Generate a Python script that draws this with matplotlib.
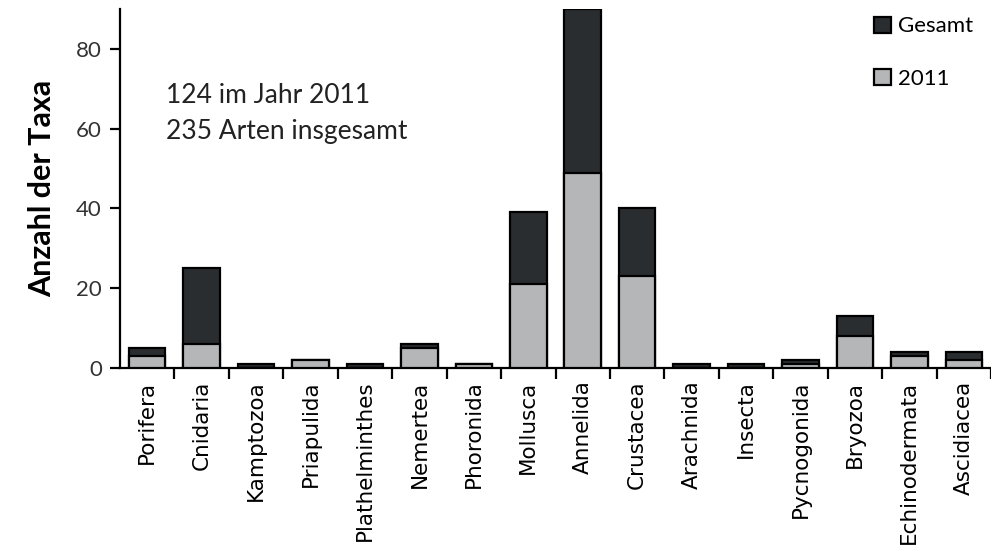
import matplotlib
matplotlib.use("Agg")
import matplotlib.pyplot as plt
import numpy as np

# data
taxa = ["Porifera", "Cnidaria", "Kamptozoa", "Priapulida", "Plathelminthes",
        "Nemertea", "Phoronida", "Mollusca", "Annelida", "Crustacea",
        "Arachnida", "Insecta", "Pycnogonida", "Bryozoa", "Echinodermata",
        "Ascidiacea"]
gesamt = [5, 25, 1, 2, 1, 6, 1, 39, 90, 40, 1, 1, 2, 13, 4, 4]
jahr2011 = [3, 6, 0, 2, 0, 5, 1, 21, 49, 23, 0, 0, 1, 8, 3, 2]

# plot parameters
figDim = (9.91, 5.45)
figDPI = 100
darkColor = "#2a2d30"
greyColor = "#b5b6b8"
barWidth = 0.67
mainFont = "Lato"

fig = plt.figure(figsize=figDim, dpi=figDPI)
ax = fig.add_axes([120/991, 177/545, 1 - 120/991, (368 - 9)/545])

x = np.arange(len(taxa))
ax.bar(x, gesamt, barWidth, color=darkColor, edgecolor="black", linewidth=1.6,
       label="Gesamt", zorder=2)
ax.bar(x, jahr2011, barWidth, color=greyColor, edgecolor="black", linewidth=1.6,
       label="2011", zorder=3)

ax.set_xlim(-0.5, 15.35)
ax.set_ylim(0, 90)
ax.spines["top"].set_visible(False)
ax.spines["right"].set_visible(False)
for s in ["left", "bottom"]:
    ax.spines[s].set_linewidth(1.6)

ax.set_yticks([0, 20, 40, 60, 80])
ax.tick_params(axis="y", direction="out", length=7, width=1.6, labelsize=16,
               pad=6)
for lbl in ax.get_yticklabels():
    lbl.set_fontfamily(mainFont)
    lbl.set_color("#333333")

# category labels centred, tick marks on the boundaries
ax.set_xticks(x)
ax.set_xticklabels(taxa, rotation=90, fontsize=15.5, family="DejaVu Sans")
ax.tick_params(axis="x", which="major", length=0, pad=9)
ax.set_xticks(np.arange(len(taxa)) + 0.5, minor=True)
ax.tick_params(axis="x", which="minor", direction="out", length=8, width=1.6)

ax.set_ylabel("Anzahl der Taxa", fontsize=22, fontweight="bold",
              family=mainFont, labelpad=14)

ax.text(0.35, 68.2, "124 im Jahr 2011", fontsize=19, family=mainFont,
        color="#222222", va="center")
ax.text(0.35, 59.4, "235 Arten insgesamt", fontsize=19, family=mainFont,
        color="#222222", va="center")

leg = ax.legend(loc="upper left", bbox_to_anchor=(0.843, 1.035), frameon=False,
                prop={"family": mainFont, "size": 16}, labelspacing=1.45,
                handlelength=0.75, handleheight=0.75, handletextpad=0.3)

fig.savefig("out.png", dpi=figDPI)
